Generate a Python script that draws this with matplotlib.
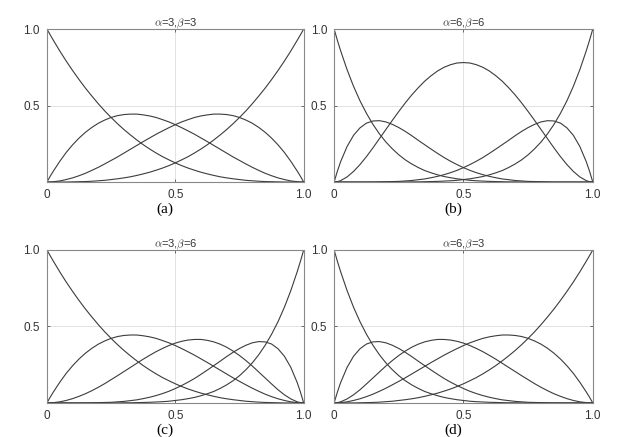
import matplotlib
matplotlib.use("Agg")
import matplotlib.pyplot as plt

# sample positions along the parameter axis
t = [0, 0.0125, 0.025, 0.05, 0.075, 0.1, 0.125, 0.15, 0.175, 0.2, 0.225, 0.25,
     0.275, 0.3, 0.325, 0.35, 0.375, 0.4, 0.425, 0.45, 0.475, 0.5, 0.525, 0.55,
     0.575, 0.6, 0.625, 0.65, 0.675, 0.7, 0.725, 0.75, 0.775, 0.8, 0.825, 0.85,
     0.875, 0.9, 0.925, 0.95, 0.975, 0.9875, 1]

# degree-3 end curves (left falling / left hump / right hump / right rising)
cub_l0 = [1, 0.963, 0.927, 0.857, 0.791, 0.729, 0.670, 0.614, 0.562, 0.512, 0.465, 0.422,
          0.381, 0.343, 0.308, 0.275, 0.244, 0.216, 0.190, 0.166, 0.145, 0.125, 0.107, 0.091,
          0.077, 0.064, 0.053, 0.043, 0.034, 0.027, 0.021, 0.016, 0.011, 0.008, 0.005, 0.003,
          0.002, 0.001, 0.0, 0.0, 0.0, 0.0, 0]
cub_l1 = [0, 0.037, 0.071, 0.135, 0.193, 0.243, 0.287, 0.325, 0.357, 0.384, 0.405, 0.422,
          0.434, 0.441, 0.444, 0.444, 0.439, 0.432, 0.422, 0.408, 0.393, 0.375, 0.355, 0.334,
          0.312, 0.288, 0.264, 0.239, 0.214, 0.189, 0.164, 0.141, 0.118, 0.096, 0.076, 0.057,
          0.041, 0.027, 0.016, 0.007, 0.002, 0.0, 0]
cub_r1 = [0, 0.0, 0.002, 0.007, 0.016, 0.027, 0.041, 0.057, 0.076, 0.096, 0.118, 0.141,
          0.164, 0.189, 0.214, 0.239, 0.264, 0.288, 0.312, 0.334, 0.355, 0.375, 0.393, 0.408,
          0.422, 0.432, 0.439, 0.444, 0.444, 0.441, 0.434, 0.422, 0.405, 0.384, 0.357, 0.325,
          0.287, 0.243, 0.193, 0.135, 0.071, 0.037, 0]
cub_r0 = [0, 0.0, 0.0, 0.0, 0.0, 0.001, 0.002, 0.003, 0.005, 0.008, 0.011, 0.016,
          0.021, 0.027, 0.034, 0.043, 0.053, 0.064, 0.077, 0.091, 0.107, 0.125, 0.145, 0.166,
          0.190, 0.216, 0.244, 0.275, 0.308, 0.343, 0.381, 0.422, 0.465, 0.512, 0.562, 0.614,
          0.670, 0.729, 0.791, 0.857, 0.927, 0.963, 1]

# degree-6 end curves
sex_l0 = [1, 0.927, 0.859, 0.735, 0.626, 0.531, 0.449, 0.377, 0.315, 0.262, 0.217, 0.178,
          0.145, 0.118, 0.095, 0.075, 0.060, 0.047, 0.036, 0.028, 0.021, 0.016, 0.011, 0.008,
          0.006, 0.004, 0.003, 0.002, 0.001, 0.001, 0, 0, 0, 0, 0, 0,
          0, 0, 0, 0, 0, 0, 0]
sex_l1 = [0, 0.070, 0.132, 0.232, 0.305, 0.354, 0.385, 0.399, 0.401, 0.393, 0.377, 0.356,
          0.331, 0.303, 0.273, 0.244, 0.215, 0.187, 0.160, 0.136, 0.114, 0.094, 0.076, 0.061,
          0.048, 0.037, 0.028, 0.020, 0.015, 0.010, 0.007, 0.004, 0.003, 0.002, 0.001, 0,
          0, 0, 0, 0, 0, 0, 0]
sex_r1 = [0, 0, 0, 0, 0, 0, 0, 0, 0.001, 0.002, 0.003, 0.004,
          0.007, 0.010, 0.015, 0.020, 0.028, 0.037, 0.048, 0.061, 0.076, 0.094, 0.114, 0.136,
          0.160, 0.187, 0.215, 0.244, 0.273, 0.303, 0.331, 0.356, 0.377, 0.393, 0.401, 0.399,
          0.385, 0.354, 0.305, 0.232, 0.132, 0.070, 0]
sex_r0 = [0, 0, 0, 0, 0, 0, 0, 0, 0, 0, 0, 0,
          0, 0.001, 0.001, 0.002, 0.003, 0.004, 0.006, 0.008, 0.011, 0.016, 0.021, 0.028,
          0.036, 0.047, 0.060, 0.075, 0.095, 0.118, 0.145, 0.178, 0.217, 0.262, 0.315, 0.377,
          0.449, 0.531, 0.626, 0.735, 0.859, 0.927, 1]

# middle curves
mid_b = [0, 0.002, 0.009, 0.033, 0.069, 0.114, 0.166, 0.223, 0.283, 0.343, 0.403, 0.461,
         0.517, 0.569, 0.616, 0.659, 0.695, 0.726, 0.750, 0.767, 0.778, 0.781, 0.778, 0.767,
         0.750, 0.726, 0.695, 0.659, 0.616, 0.569, 0.517, 0.461, 0.403, 0.343, 0.283, 0.223,
         0.166, 0.114, 0.069, 0.033, 0.009, 0.002, 0]
mid_c = [0, 0.0, 0.002, 0.007, 0.016, 0.028, 0.043, 0.060, 0.080, 0.102, 0.126, 0.152,
         0.178, 0.205, 0.232, 0.259, 0.286, 0.311, 0.335, 0.356, 0.375, 0.391, 0.403, 0.411,
         0.415, 0.415, 0.409, 0.399, 0.384, 0.364, 0.339, 0.310, 0.277, 0.241, 0.202, 0.163,
         0.124, 0.086, 0.053, 0.026, 0.007, 0.002, 0]
mid_d = [0, 0.002, 0.007, 0.026, 0.053, 0.086, 0.124, 0.163, 0.202, 0.241, 0.277, 0.310,
         0.339, 0.364, 0.384, 0.399, 0.409, 0.415, 0.415, 0.411, 0.403, 0.391, 0.375, 0.356,
         0.335, 0.311, 0.286, 0.259, 0.232, 0.205, 0.178, 0.152, 0.126, 0.102, 0.080, 0.060,
         0.043, 0.028, 0.016, 0.007, 0.002, 0.0, 0]

titles = [r"$\alpha$=3,$\beta$=3", r"$\alpha$=6,$\beta$=6",
          r"$\alpha$=3,$\beta$=6", r"$\alpha$=6,$\beta$=3"]
captions = ["(a)", "(b)", "(c)", "(d)"]
panels = [
    [cub_l0, cub_l1, cub_r1, cub_r0],
    [sex_l0, sex_l1, mid_b, sex_r1, sex_r0],
    [cub_l0, cub_l1, mid_c, sex_r1, sex_r0],
    [sex_l0, sex_l1, mid_d, cub_r1, cub_r0],
]

xticks = [0, 0.5, 1.0]
xticklabels = ["0", "0.5", "1.0"]
yticks = [0.5, 1.0]
yticklabels = ["0.5", "1.0"]

plt.rcParams["font.family"] = ["Liberation Sans", "DejaVu Sans"]
plt.rcParams["mathtext.fontset"] = "cm"

fig = plt.figure(figsize=(6.34, 4.37), dpi=100)
boxes = [[0.074, 0.5835, 0.405, 0.350], [0.527, 0.5835, 0.408, 0.350],
         [0.074, 0.078, 0.405, 0.350], [0.527, 0.078, 0.408, 0.350]]

for box, curves, title, cap in zip(boxes, panels, titles, captions):
    ax = fig.add_axes(box)
    for y in curves:
        ax.plot(t, y, color="#3c3c3c", lw=0.8)
    ax.set_xlim(0, 1)
    ax.set_ylim(0, 1)
    ax.set_xticks(xticks)
    ax.set_xticklabels(xticklabels)
    ax.set_yticks(yticks)
    ax.set_yticklabels(yticklabels)
    ax.tick_params(direction="in", length=2, width=0.6, colors="#555555",
                   labelcolor="#333333", labelsize=8.5, top=True, right=True, pad=5)
    ax.grid(True, color="#dddddd", lw=0.6)
    ax.set_axisbelow(True)
    for s in ax.spines.values():
        s.set_color("#888888")
        s.set_linewidth(0.8)
    ax.set_title(title, fontsize=8, color="#333333", pad=2)
    ax.text(0.46, -0.18, cap, transform=ax.transAxes, ha="center", va="center",
            fontsize=11, family=["Liberation Serif", "DejaVu Serif"])

fig.savefig("out.png", dpi=100)
